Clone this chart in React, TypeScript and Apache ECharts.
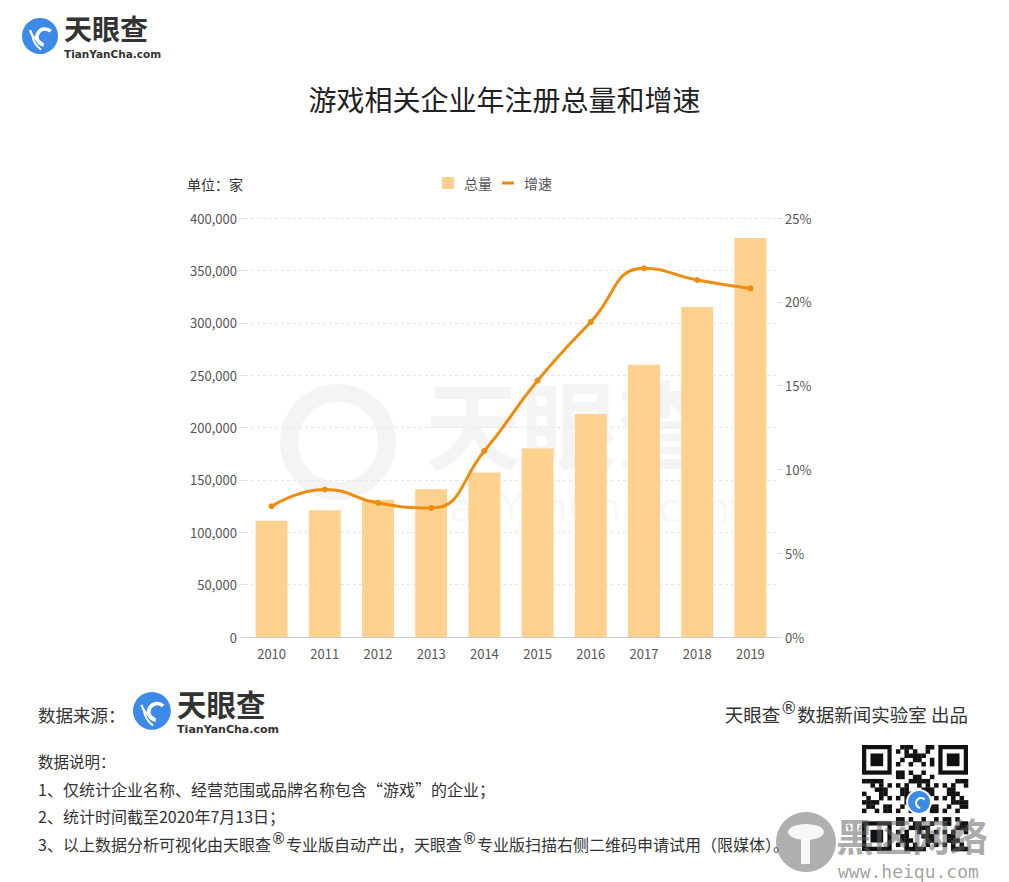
import React, { useEffect, useRef } from 'react';
import * as echarts from 'echarts';

const years = ['2010', '2011', '2012', '2013', '2014', '2015', '2016', '2017', '2018', '2019'];
const totals = [111000, 121000, 131000, 141000, 157000, 180000, 213000, 260000, 315000, 381000];
const growth = [7.8, 8.8, 8.0, 7.7, 11.1, 15.3, 18.8, 22.0, 21.3, 20.8];
const seriesNames = ['总量', '增速'];
const titleText = '游戏相关企业年注册总量和增速';
const unitText = '单位：家';
const notes = [
  '数据说明：',
  '1、仅统计企业名称、经营范围或品牌名称包含“游戏”的企业；',
  '2、统计时间截至2020年7月13日；',
];

const FONT = '"Noto Sans CJK SC", "Noto Sans", sans-serif';

function logo(x: number, y: number, s: number, blue: string, dark: string, z = 1): any[] {
  const cx = x + 18 * s;
  const cy = y + 18 * s;
  return [
    { type: 'circle', z, shape: { cx, cy, r: 18 * s }, style: { fill: blue } },
    { type: 'arc', z, shape: { cx: cx + 5 * s, cy: cy + 1 * s, r: 8 * s, startAngle: Math.PI * 0.55, endAngle: Math.PI * 1.75 }, style: { stroke: '#fff', lineWidth: 3.5 * s, fill: 'none' } },
    { type: 'arc', z, shape: { cx: cx + 9 * s, cy: cy - 12 * s, r: 20 * s, startAngle: Math.PI * 0.62, endAngle: Math.PI * 0.9 }, style: { stroke: '#fff', lineWidth: 2.2 * s, fill: 'none' } },
    { type: 'arc', z, shape: { cx: cx + 14 * s, cy: cy - 4 * s, r: 22 * s, startAngle: Math.PI * 0.7, endAngle: Math.PI * 0.95 }, style: { stroke: '#fff', lineWidth: 2 * s, fill: 'none' } },
    { type: 'text', z, x: x + 42 * s, y: y + 10 * s, style: { text: '天眼查', fontSize: 28 * s, fontWeight: 'bold', fontFamily: FONT, fill: dark, textVerticalAlign: 'middle', lineHeight: 26 * s } },
    { type: 'text', z, x: x + 42 * s, y: y + 35.5 * s, style: { text: 'TianYanCha.com', fontSize: 10.5 * s, fontWeight: 'bold', fontFamily: 'DejaVu Sans, sans-serif', fill: dark, textVerticalAlign: 'middle', lineHeight: 10 * s } },
  ];
}

function qr(x0: number, y0: number, size: number): any[] {
  const n = 25;
  const m = size / n;
  const els: any[] = [];
  const inFinder = (i: number, j: number) =>
    (i < 8 && j < 8) || (i >= n - 8 && j < 8) || (i < 8 && j >= n - 8);
  for (let i = 0; i < n; i++) {
    for (let j = 0; j < n; j++) {
      if (inFinder(i, j)) continue;
      const on = ((i * 31 + j * 17 + i * j * 7) % 11) < 5;
      if (on) els.push({ type: 'rect', shape: { x: x0 + i * m, y: y0 + j * m, width: m + 0.3, height: m + 0.3 }, style: { fill: '#111' } });
    }
  }
  const finder = (fi: number, fj: number) => {
    els.push({ type: 'rect', shape: { x: x0 + fi * m, y: y0 + fj * m, width: 7 * m, height: 7 * m }, style: { fill: '#111' } });
    els.push({ type: 'rect', shape: { x: x0 + (fi + 1) * m, y: y0 + (fj + 1) * m, width: 5 * m, height: 5 * m }, style: { fill: '#fff' } });
    els.push({ type: 'rect', shape: { x: x0 + (fi + 2) * m, y: y0 + (fj + 2) * m, width: 3 * m, height: 3 * m }, style: { fill: '#111' } });
  };
  finder(0, 0);
  finder(n - 7, 0);
  finder(0, n - 7);
  els.push({ type: 'circle', shape: { cx: x0 + size / 2 + 4, cy: y0 + size / 2 + 4, r: 13 }, style: { fill: '#fff' } });
  els.push({ type: 'circle', shape: { cx: x0 + size / 2 + 4, cy: y0 + size / 2 + 4, r: 11 }, style: { fill: '#3D8AE8' } });
  els.push({ type: 'arc', shape: { cx: x0 + size / 2 + 6, cy: y0 + size / 2 + 5, r: 5, startAngle: Math.PI * 0.55, endAngle: Math.PI * 1.75 }, style: { stroke: '#fff', lineWidth: 2, fill: 'none' } });
  return els;
}

export default function App() {
  const ref = useRef<HTMLDivElement>(null);
  useEffect(() => {
    document.body.style.margin = '0';
    if (!ref.current) return;
    const chart = echarts.init(ref.current, undefined, { renderer: 'svg' });
    const wm = 'rgba(0,0,0,0.045)';
    const graphics: any[] = [
      ...logo(22, 18, 1, '#3D8AE8', '#333'),
      // watermark
      { type: 'ring', z: 0, shape: { cx: 338, cy: 442, r: 58, r0: 40 }, style: { fill: wm } },
      { type: 'text', z: 0, x: 425, y: 420, style: { text: '天眼查', fontSize: 96, fontWeight: 'bold', fontFamily: FONT, fill: wm, textVerticalAlign: 'middle', lineHeight: 92 } },
      { type: 'text', z: 0, x: 415, y: 508, style: { text: 'TianYanCha.com', fontSize: 40, fontFamily: 'DejaVu Sans, sans-serif', fill: wm, textVerticalAlign: 'middle', lineHeight: 38 } },
      { type: 'text', x: 187, y: 184, style: { text: unitText, fontSize: 14, fontFamily: FONT, fill: '#333', textVerticalAlign: 'middle' } },
      { type: 'text', x: 38, y: 714, style: { text: '数据来源：', fontSize: 17.5, fontFamily: FONT, fill: '#333', textVerticalAlign: 'middle' } },
      ...logo(133, 692, 1.05, '#3D8AE8', '#333'),
      {
        type: 'text', x: 968, y: 714,
        style: {
          text: '{a|天眼查}{s|®}{a|数据新闻实验室 出品}', textAlign: 'right', textVerticalAlign: 'middle',
          rich: {
            a: { fontSize: 18.5, fontFamily: FONT, fill: '#333' },
            s: { fontSize: 17, fontFamily: 'DejaVu Sans, sans-serif', fill: '#333', verticalAlign: 'top', padding: [0, 0, 12, 0] },
          },
        },
      },
      { type: 'text', x: 38, y: 761, style: { text: notes[0], fontSize: 15.5, fontFamily: FONT, fill: '#333', textVerticalAlign: 'middle' } },
      { type: 'text', x: 38, y: 789, style: { text: notes[1], fontSize: 16, fontFamily: FONT, fill: '#333', textVerticalAlign: 'middle' } },
      { type: 'text', x: 38, y: 816, style: { text: notes[2], fontSize: 16, fontFamily: FONT, fill: '#333', textVerticalAlign: 'middle' } },
      {
        type: 'text', x: 38, y: 844,
        style: {
          text: '{a|3、以上数据分析可视化由天眼查}{s|®}{a|专业版自动产出，天眼查}{s|®}{a|专业版扫描右侧二维码申请试用（限媒体）。}',
          textVerticalAlign: 'middle',
          rich: {
            a: { fontSize: 16, fontFamily: FONT, fill: '#333' },
            s: { fontSize: 15, fontFamily: 'DejaVu Sans, sans-serif', fill: '#333', verticalAlign: 'top', padding: [0, 0, 11, 0] },
          },
        },
      },
      ...qr(862, 745, 106),
      // site watermark
      { type: 'circle', shape: { cx: 806, cy: 842, r: 30 }, style: { fill: 'rgba(110,110,110,0.55)' } },
      { type: 'ellipse', shape: { cx: 806, cy: 832, rx: 18, ry: 8 }, style: { fill: 'rgba(255,255,255,0.9)' } },
      { type: 'rect', shape: { x: 801, y: 838, width: 9, height: 26 }, style: { fill: 'rgba(255,255,255,0.9)' } },
      { type: 'text', x: 836, y: 834, style: { text: '黑区网络', fontSize: 38, fontWeight: 'bold', fontFamily: FONT, fill: 'rgba(100,100,100,0.55)', textVerticalAlign: 'middle', lineHeight: 36 } },
      { type: 'text', x: 838, y: 871, style: { text: 'www.heiqu.com', fontSize: 18, fontFamily: '"DejaVu Sans Mono", monospace', fill: 'rgba(100,100,100,0.6)', textVerticalAlign: 'middle', lineHeight: 16 } },
    ];
    chart.setOption({
      animation: false,
      backgroundColor: '#fff',
      textStyle: { fontFamily: FONT },
      title: {
        text: titleText, left: 'center', top: 80,
        textStyle: { fontSize: 28, fontWeight: 'normal', color: '#222', fontFamily: FONT },
      },
      legend: {
        left: 442, top: 176, padding: 0, itemWidth: 12, itemHeight: 12, itemGap: 10,
        textStyle: { fontSize: 14, color: '#555', fontFamily: FONT, padding: [0, 0, 0, 5] },
        data: [
          { name: seriesNames[0], icon: 'rect' },
          { name: seriesNames[1], icon: 'path://M0 0h12v3h-12z' },
        ],
      },
      grid: { left: 245, right: 232, top: 218, bottom: 245 },
      xAxis: {
        type: 'category', data: years,
        axisLine: { lineStyle: { color: '#ccc' } },
        axisTick: { alignWithLabel: true, lineStyle: { color: '#ccc' }, length: 5 },
        axisLabel: { color: '#555', fontSize: 13, margin: 10 },
      },
      yAxis: [
        {
          type: 'value', min: 0, max: 400000, interval: 50000,
          axisLine: { show: false },
          axisTick: { show: true, length: 6, lineStyle: { color: '#ddd' } },
          axisLabel: { color: '#555', fontSize: 13, margin: 8 },
          splitLine: { lineStyle: { color: '#e6e6e6', type: [3, 3] } },
        },
        {
          type: 'value', min: 0, max: 25, interval: 5,
          axisLine: { show: false },
          axisTick: { show: true, length: 6, lineStyle: { color: '#ddd' } },
          axisLabel: { color: '#555', fontSize: 13, margin: 8, formatter: '{value}%' },
          splitLine: { show: false },
        },
      ],
      series: [
        {
          name: seriesNames[0], type: 'bar', data: totals, yAxisIndex: 0, barWidth: '60%',
          itemStyle: { color: '#FED18F' }, z: 2,
        },
        {
          name: seriesNames[1], type: 'line', data: growth, yAxisIndex: 1, smooth: true,
          symbol: 'circle', symbolSize: 6,
          lineStyle: { color: '#EE8C0E', width: 3 },
          itemStyle: { color: '#EE8C0E' }, z: 3,
        },
      ],
      graphic: graphics,
    });
    return () => chart.dispose();
  }, []);
  return <div ref={ref} style={{ width: 1009, height: 882 }} />;
}
